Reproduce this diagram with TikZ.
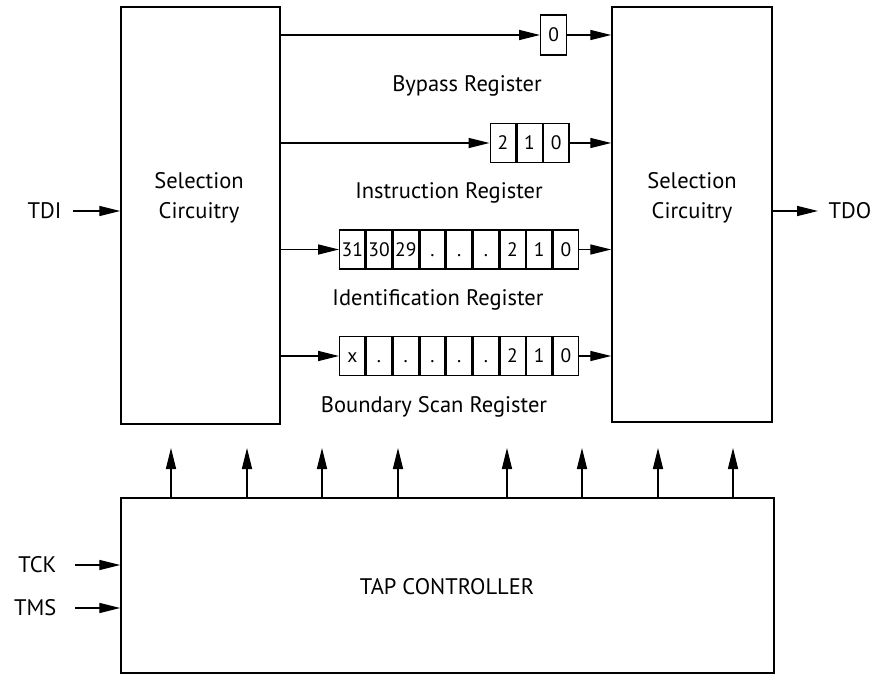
\documentclass[tikz,border=0pt]{standalone}
\usepackage{fontspec}
\setmainfont{PT Sans}
\usetikzlibrary{arrows.meta}
\begin{document}
\begin{tikzpicture}[x=1pt,y=-1pt,line width=1.4pt,
  >={Triangle[length=21pt,width=10pt]},
  blk/.style={draw,line width=1.5pt,inner sep=0pt},
  cell/.style={draw,line width=1.4pt,minimum width=25.3pt,minimum height=39pt,inner sep=0pt,anchor=west,
    font=\fontsize{19.5}{20}\selectfont,text height=13.5pt,text depth=0pt},
  lbl/.style={font=\fontsize{22.5}{30}\selectfont,inner sep=0pt,align=center}]
\useasboundingbox (0,0) rectangle (877,675);
% blocks
\node[blk,minimum width=159pt,minimum height=417pt] (L) at (200.5,215.5) {};
\node[blk,minimum width=160pt,minimum height=415pt] (R) at (692,214.5) {};
\node[blk,minimum width=653pt,minimum height=175pt] (T) at (447.5,585.5) {};
\node[lbl] (Ltxt) at (199,198) {Selection\\Circuitry};
\node[lbl] (Rtxt) at (692,198) {Selection\\Circuitry};
\node[lbl] (Ttxt) at (447,587) {TAP CONTROLLER};
% registers
\node[cell,minimum width=26pt,minimum height=40pt] (bp) at (540,35) {0};
\node[cell] (ir1) at (489.5,143) {2};
\node[cell] (ir2) at (ir1.east) {1};
\node[cell] (ir3) at (ir2.east) {0};
\node[cell] (id1) at (339,249.5) {31};
\foreach \t [count=\i from 2, evaluate=\i as \j using int(\i-1)] in {30,29,.,.,.,2,1,0}
  \node[cell] (id\i) at (id\j.east) {\t};
\node[cell] (bs1) at (339,356) {x};
\foreach \t [count=\i from 2, evaluate=\i as \j using int(\i-1)] in {.,.,.,.,.,2,1,0}
  \node[cell] (bs\i) at (bs\j.east) {\t};
% register labels
\node[lbl] (bpl) at (467,86) {Bypass Register};
\node[lbl] (irl) at (449,193) {Instruction Register};
\node[lbl] (idl) at (438,300) {Identification Register};
\node[lbl] (bsl) at (434,407) {Boundary Scan Register};
% connectors left -> registers -> right
\draw[->] (L.east |- bp.west) -- (bp.west);
\draw[->] (bp.east) -- (R.west |- bp.east);
\draw[->] (L.east |- ir1.west) -- (ir1.west);
\draw[->] (ir3.east) -- (R.west |- ir3.east);
\draw[->] (L.east |- id1.west) -- (id1.west);
\draw[->] (id9.east) -- (R.west |- id9.east);
\draw[->] (L.east |- bs1.west) -- (bs1.west);
\draw[->] (bs9.east) -- (R.west |- bs9.east);
% pins
\node[lbl,anchor=east] (tdi) at (62,211) {TDI};
\draw[->] (73,211) coordinate (tdis) -- (L.west |- tdis);
\node[lbl,anchor=west] (tdo) at (828,211) {TDO};
\draw[->] (R.east |- tdo.west) -- ([xshift=-10pt]tdo.west);
\node[lbl,anchor=east] (tck) at (57,565) {TCK};
\draw[->] (75,565) coordinate (tcks) -- (T.west |- tcks);
\node[lbl,anchor=east] (tms) at (57,608) {TMS};
\draw[->] (75,608) coordinate (tmss) -- (T.west |- tmss);
% control arrows
\foreach \x in {171,247,322,398,507,582,658,733}
  \draw[->] (T.north -| \x,0) -- (\x,448);
\end{tikzpicture}
\end{document}
